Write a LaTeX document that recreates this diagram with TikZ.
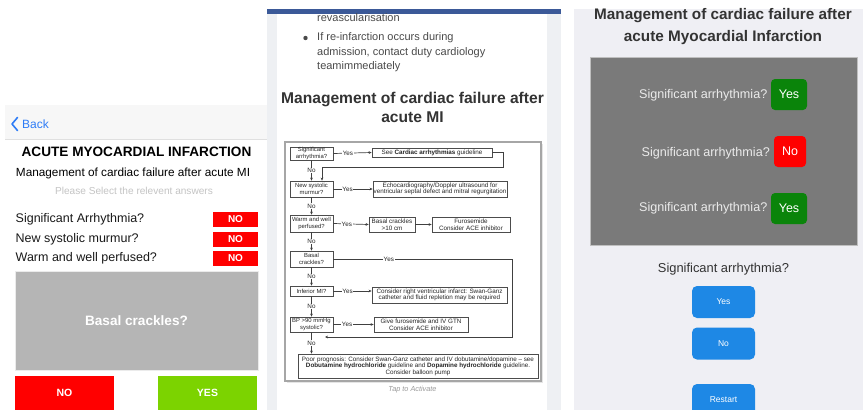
\documentclass[tikz,border=0pt]{standalone}
\usepackage{fontspec}
\setmainfont{Liberation Sans}
\usetikzlibrary{arrows.meta}
\definecolor{iosblue}{HTML}{2E7CF6}
\definecolor{hdrgrey}{HTML}{F7F7F7}
\definecolor{nored}{HTML}{FF0000}
\definecolor{yesgreen}{HTML}{7CD300}
\definecolor{basalgrey}{HTML}{B5B5B5}
\definecolor{fbblue}{HTML}{3B5998}
\definecolor{margrey}{HTML}{EEF0F3}
\definecolor{pthreebg}{HTML}{EFEFF4}
\definecolor{darkbox}{HTML}{7A7A7A}
\definecolor{btngreen}{HTML}{0A840A}
\definecolor{btnblue}{HTML}{1E88E5}
\definecolor{bodygrey}{HTML}{4A4A4A}
\definecolor{headgrey}{HTML}{333333}
\definecolor{palegrey}{HTML}{C4C4C4}
\newcommand\fsz[2]{\fontsize{#1}{#2}\selectfont}
\begin{document}
\begin{tikzpicture}[x=1pt,y=-1pt,
  fbox/.style={draw=black!70, line width=0.85pt, fill=white, align=center, inner sep=0pt,
     font=\fsz{6.3}{6.6}, text=black!85},
  qbox/.style={fbox, minimum width=43pt, font=\fsz{5.9}{6.3}},
  arr/.style={draw=black!75, line width=0.7pt, -{Stealth[length=3pt,width=2.8pt]}},
  lbl/.style={fill=white, inner sep=0.6pt, font=\fsz{6.3}{6.6}, text=black!85},
  smallno/.style={fill=nored, text=white, font=\bfseries\fsz{10}{12}, minimum width=45pt, minimum height=15pt, inner sep=0pt},
  bigbtn/.style={text=white, font=\bfseries\fsz{10.5}{12}, minimum width=99pt, minimum height=34pt, inner sep=0pt},
  ansbtn/.style={rounded corners=4pt, text=white, font=\fsz{12.5}{14}, minimum width=36pt, minimum height=31pt, inner sep=0pt},
  bluebtn/.style={fill=btnblue, rounded corners=5pt, text=white, font=\fsz{8.5}{10}, minimum width=63pt, minimum height=32pt, inner sep=0pt},
  rowtxt/.style={anchor=west, font=\fsz{12.5}{14}, text=black!90, inner sep=0pt},
  qtxt/.style={anchor=east, font=\fsz{12.6}{14}, text=white!92!black, inner sep=0pt},
  bodytxt/.style={anchor=west, font=\fsz{11}{13}, text=bodygrey, inner sep=0pt}]
\useasboundingbox (0,0) rectangle (863,410);
\begin{scope}
\clip (0,0) rectangle (863,410);
\fill[white] (0,0) rectangle (863,410);

% ---------------- Panel 1 ----------------
\fill[hdrgrey] (5,105) rectangle (267,139);
\draw[black!12, line width=0.5pt] (5,139) -- (267,139);
\draw[iosblue, line width=1.6pt, line cap=round, line join=round] (17.5,117.5) -- (12,124) -- (17.5,130.5);
\node[anchor=west, text=iosblue, font=\fsz{12}{14}, inner sep=0pt] (back) at (22,124) {Back};
\node[font=\bfseries\fsz{13.6}{16}, inner sep=0pt] (t1) at (136.5,152) {ACUTE MYOCARDIAL INFARCTION};
\node[font=\fsz{11.8}{14}, inner sep=0pt] (t2) at (133,173) {Management of cardiac failure after acute MI};
\node[font=\fsz{10.1}{12}, text=palegrey, inner sep=0pt] (t3) at (134,191) {Please Select the relevent answers};
\node[rowtxt] (r1) at (15.5,219.5) {Significant Arrhythmia?};
\node[rowtxt] (r2) at (15.5,239) {New systolic murmur?};
\node[rowtxt] (r3) at (15.5,258.5) {Warm and well perfused?};
\node[smallno] (n1) at (235.5,219.5) {NO};
\node[smallno] (n2) at (235.5,239) {NO};
\node[smallno] (n3) at (235.5,258.5) {NO};
\node[fill=basalgrey, draw=black!8, minimum width=243pt, minimum height=99pt, inner sep=0pt,
      text=white, font=\bfseries\fsz{13.6}{16}] (basal) at (136.5,320.5) {Basal crackles?};
\node[bigbtn, fill=nored] (bno) at (64.5,393) {NO};
\node[bigbtn, fill=yesgreen] (byes) at (207.5,393) {YES};

% ---------------- Panel 2 ----------------
\fill[margrey] (267,9) rectangle (561,410);
\fill[white] (277,14) rectangle (547,410);
\fill[fbblue] (267,9) rectangle (561,14);
\node[bodytxt] (p1) at (317,17.5) {revascularisation};
\fill[bodygrey] (305.5,38) circle (2.2pt);
\node[bodytxt] (p2) at (317,38) {If re-infarction occurs during};
\node[bodytxt] (p3) at (317,53) {admission, contact duty cardiology};
\node[bodytxt] (p4) at (317,66.5) {teamimmediately};
\node[font=\bfseries\fsz{15.6}{18}, text=headgrey, inner sep=0pt] (h1) at (412.5,99) {Management of cardiac failure after};
\node[font=\bfseries\fsz{15.6}{18}, text=headgrey, inner sep=0pt] (h2) at (412.5,117.5) {acute MI};

% flowchart frame
\fill[black!10] (286.5,143.5) rectangle (542.5,382.5);
\draw[black!35, line width=1.2pt, fill=white] (285,142) rectangle (541,381);

\node[qbox, minimum height=13pt] (q1) at (311.5,153.5) {Significant\\arrhythmia?};
\node[fbox, minimum width=120pt, minimum height=9pt] (a1) at (432,152.5) {See \textbf{Cardiac arrhythmias} guideline};
\node[qbox, minimum height=16pt] (q2) at (311.5,189) {New systolic\\murmur?};
\node[fbox, minimum width=134pt, minimum height=16pt] (a2) at (440,189) {Echocardiography/Doppler ultrasound for\\ventricular septal defect and mitral regurgitation};
\node[qbox, minimum height=17pt] (q3) at (311.5,223.5) {Warm and well\\perfused?};
\node[fbox, minimum width=46pt, minimum height=15pt] (b3) at (392,224.5) {Basal crackles\\>10 cm};
\node[fbox, minimum width=78pt, minimum height=15pt] (c3) at (471,224.5) {Furosemide\\Consider ACE inhibitor};
\node[qbox, minimum height=16pt] (q4) at (311.5,259) {Basal\\crackles?};
\node[qbox, minimum height=10pt] (q5) at (311.5,291) {Inferior MI?};
\node[fbox, minimum width=135pt, minimum height=16pt] (a5) at (439.5,295) {Consider right ventricular infarct: Swan-Ganz\\catheter and fluid repletion may be required};
\node[qbox, minimum height=15pt] (q6) at (311.5,324.5) {BP >90 mmHg\\systolic?};
\node[fbox, minimum width=94pt, minimum height=15pt] (a6) at (421,324.5) {Give furosemide and IV GTN\\Consider ACE inhibitor};
\node[fbox, minimum width=240pt, minimum height=24pt] (pp) at (418,366) {Poor prognosis: Consider Swan-Ganz catheter and IV dobutamine/dopamine -- see\\\textbf{Dobutamine hydrochloride} guideline and \textbf{Dopamine hydrochloride} guideline.\\Consider balloon pump};

\coordinate (loopA) at (503,167);
\coordinate (loopB) at (512,337);
\coordinate (bpin) at (325,337);

\draw[arr] (q1.east) -- node[lbl, pos=0.38] {Yes} (a1.west);
\draw[arr] (a1.east) -| (loopA) -| ([xshift=10.5pt]q2.north);
\draw[arr] (q1.south) -- node[lbl] {No} (q2.north);
\draw[arr] (q2.east) -- node[lbl, pos=0.36] {Yes} (a2.west);
\draw[arr] (q2.south) -- node[lbl] {No} (q3.north);
\draw[arr] (q3.east) -- node[lbl, pos=0.38] {Yes} (b3.west);
\draw[arr] (b3.east) -- (c3.west);
\draw[arr] (q3.south) -- node[lbl] {No} (q4.north);
\draw[arr] (q4.east) -- node[lbl, pos=0.31] {Yes} (q4.east -| loopB) -- (loopB) -- (bpin);
\draw[arr] (q4.south) -- node[lbl] {No} (q5.north);
\draw[arr] (q5.east) -- node[lbl, pos=0.37] {Yes} (q5.east -| a5.west);
\draw[arr] (q5.south) -- node[lbl] {No} (q6.north);
\draw[arr] (q6.east) -- node[lbl, pos=0.34] {Yes} (a6.west);
\draw[arr] (q6.south) -- node[lbl] {No} (q6.south |- pp.north);

\node[font=\itshape\fsz{7.3}{9}, text=black!40, inner sep=0pt] (tap) at (412.5,390) {Tap to Activate};

% ---------------- Panel 3 ----------------
\fill[pthreebg] (574,9) rectangle (863,410);
\node[font=\bfseries\fsz{15.3}{18}, text=headgrey, inner sep=0pt] (k1) at (723,16) {Management of cardiac failure after};
\node[font=\bfseries\fsz{15.3}{18}, text=headgrey, inner sep=0pt] (k2) at (723,38) {acute Myocardial Infarction};
\node[fill=darkbox, draw=black!25, line width=0.5pt, minimum width=267pt, minimum height=188pt, inner sep=0pt] (gbox) at (723.5,151) {};
\node[qtxt] (s1) at (767.5,95) {Significant arrhythmia?};
\node[qtxt] (s2) at (770,153) {Significant arrhythmia?};
\node[qtxt] (s3) at (767.5,208.5) {Significant arrhythmia?};
\node[ansbtn, fill=btngreen] (y1) at (789,94.5) {Yes};
\node[ansbtn, fill=nored, minimum width=32pt] (m2) at (790,151.5) {No};
\node[ansbtn, fill=btngreen] (y3) at (789,208.5) {Yes};
\node[font=\fsz{12.9}{15}, text=headgrey, inner sep=0pt] (s4) at (723.5,269.5) {Significant arrhythmia?};
\node[bluebtn] (by) at (723.5,302) {Yes};
\node[bluebtn] (bn) at (723.5,343.5) {No};
\node[bluebtn] (br) at (723.5,400) {Restart};
\end{scope}
\end{tikzpicture}
\end{document}
